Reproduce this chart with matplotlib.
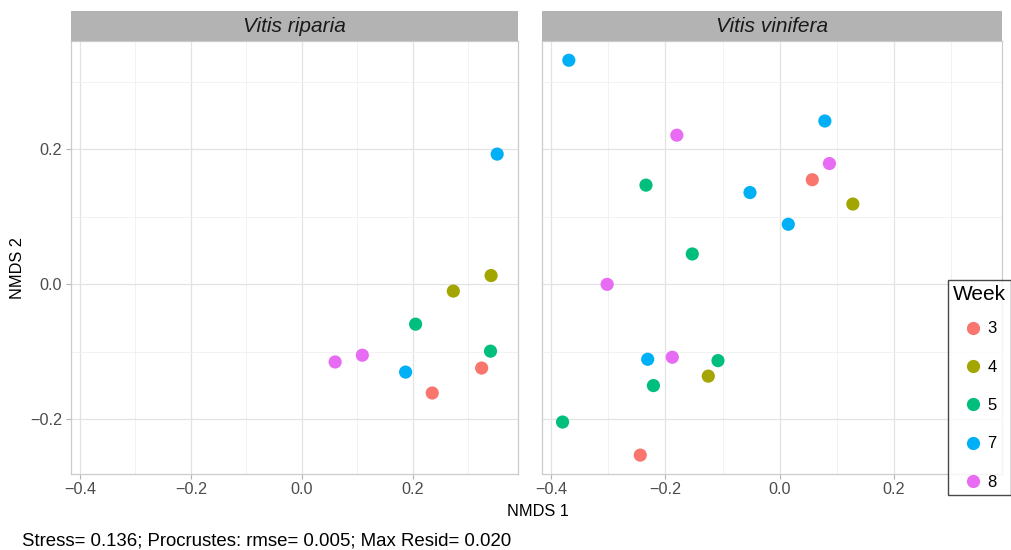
import matplotlib.pyplot as plt
from matplotlib.lines import Line2D
from matplotlib.patches import Rectangle
import numpy as np

plt.rcParams['font.family'] = ['Liberation Sans', 'DejaVu Sans']

weeks = ['3', '4', '5', '7', '8']
week_colors = ['#F8766D', '#A3A500', '#00BF7D', '#00B0F6', '#E76BF3']

# Vitis riparia samples
rip_week = ['7', '4', '4', '5', '5', '3', '3', '7', '8', '8']
rip_x = [0.352, 0.341, 0.273, 0.205, 0.340, 0.324, 0.235, 0.187, 0.109, 0.060]
rip_y = [0.193, 0.013, -0.010, -0.059, -0.099, -0.124, -0.161, -0.130, -0.105, -0.115]

# Vitis vinifera samples
vin_week = ['7', '7', '8', '8', '3', '5', '7', '4', '7', '5',
            '8', '7', '8', '5', '4', '5', '5', '3']
vin_x = [-0.369, 0.079, -0.180, 0.087, 0.057, -0.234, -0.052, 0.128, 0.015, -0.153,
         -0.302, -0.231, -0.188, -0.108, -0.125, -0.221, -0.380, -0.244]
vin_y = [0.332, 0.242, 0.221, 0.179, 0.155, 0.147, 0.136, 0.119, 0.089, 0.045,
         0.000, -0.111, -0.108, -0.113, -0.136, -0.150, -0.204, -0.253]

panels = ['Vitis riparia', 'Vitis vinifera']
xticks = [-0.4, -0.2, 0.0, 0.2]
yticks = [-0.2, 0.0, 0.2]
footer = 'Stress= 0.136; Procrustes: rmse= 0.005; Max Resid= 0.020'

W, H = 1012, 550
fig = plt.figure(figsize=(W / 100, H / 100), dpi=100)


def px_box(x0, y0, x1, y1):
    return [x0 / W, 1 - y1 / H, (x1 - x0) / W, (y1 - y0) / H]


color_of = dict(zip(weeks, week_colors))
data = [(rip_x, rip_y, rip_week), (vin_x, vin_y, vin_week)]
boxes = [(70.7, 517.7), (541.7, 1002)]

for i, (name, (xs, ys, wk), (x0, x1)) in enumerate(zip(panels, data, boxes)):
    ax = fig.add_axes(px_box(x0, 40.7, x1, 474))
    ax.set_xlim(-0.4165, 0.389)
    ax.set_ylim(-0.281, 0.361)
    ax.set_xticks(xticks)
    ax.set_yticks(yticks)
    ax.set_xticks([-0.3, -0.1, 0.1, 0.3], minor=True)
    ax.set_yticks([-0.1, 0.1, 0.3], minor=True)
    ax.grid(which='major', color='#E3E3E3', lw=0.9)
    ax.grid(which='minor', color='#F0F0F0', lw=0.6)
    ax.set_axisbelow(True)
    for s in ax.spines.values():
        s.set_color('#CCCCCC')
        s.set_linewidth(0.9)
    ax.tick_params(which='minor', length=0)
    ax.tick_params(which='major', length=3.5, width=0.8, color='#B3B3B3',
                   labelsize=11.7, labelcolor='#4D4D4D', pad=2.5)
    ax.set_xticklabels(['\u22120.4', '\u22120.2', '0.0', '0.2'])
    if i == 0:
        ax.set_yticklabels(['\u22120.2', '0.0', '0.2'])
    else:
        ax.tick_params(axis='y', left=False, labelleft=False)
    ax.scatter(xs, ys, c=[color_of[w] for w in wk], s=90, edgecolors='none', zorder=3)

    # facet strip
    sax = fig.add_axes(px_box(x0, 11, x1, 40.7))
    sax.add_patch(Rectangle((0, 0), 1, 1, color='#B3B3B3', transform=sax.transAxes))
    sax.set_axis_off()
    sax.text(0.5, 0.48, name, style='italic', fontsize=15, color='#1A1A1A',
             ha='center', va='center', transform=sax.transAxes)

fig.text(538 / W, 1 - 511 / H, 'NMDS 1', fontsize=11.8, ha='center', va='center')
fig.text(17 / W, 1 - 268 / H, 'NMDS 2', fontsize=11.8, ha='center', va='center',
         rotation=90)
fig.text(22 / W, 1 - 541 / H, footer, fontsize=13.45, ha='left', va='center')

handles = [Line2D([], [], ls='none', marker='o', ms=9.5, mec='none', mfc=c)
           for c in week_colors]
leg = fig.legend(handles, weeks, title='Week', loc='upper left',
                 bbox_to_anchor=(948 / W, 1 - 280 / H), fontsize=12,
                 title_fontsize=15, frameon=True, fancybox=False,
                 labelspacing=1.4, handlelength=2.4, handletextpad=-0.35,
                 borderpad=0.3, borderaxespad=0, alignment='left')
leg._legend_box.sep = 12.5  # tighter gap under the title
leg.get_frame().set_edgecolor('#1A1A1A')
leg.get_frame().set_linewidth(1.0)

fig.savefig('out.png', dpi=100)
